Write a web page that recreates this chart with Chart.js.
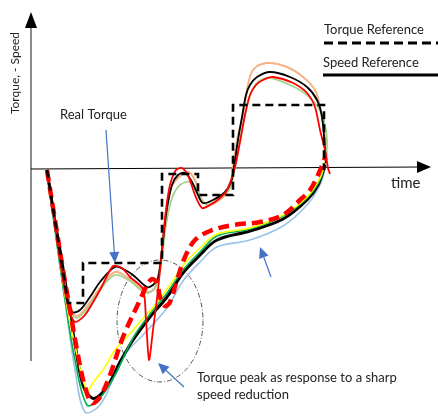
<!DOCTYPE html>
<html>
<head>
<meta charset="utf-8">
<script src="https://cdn.jsdelivr.net/npm/chart.js@4.4.0/dist/chart.umd.min.js"></script>
<style>
  html, body { margin: 0; padding: 0; background: #fff; }
  canvas { display: block; }
</style>
</head>
<body>
<canvas id="chart" width="438" height="416"></canvas>
<script>
// [time, value] pairs, arbitrary units (axis origin = 0,0)
const torqueReference = [[1.6,-0.1],[3.7,-13.4],[5.2,-13.4],[5.2,-9.4],[13.1,-9.4],[13.1,-0.5],[16.7,-0.5],[16.7,-2.6],[20.2,-2.6],[20.2,6.4],[29.3,6.4],[29.3,-0.1]];

const torqueBlack = [[1.6,-0.1],[2.4,-5.1],[3.1,-10.1],[3.6,-13.1],[4.1,-14.3],[4.9,-14.1],[5.9,-12.8],[6.9,-11.3],[8.4,-9.8],[9.4,-10.1],[10.2,-10.6],[11.6,-11.8],[12.2,-11.6],[12.7,-10.9],[13.1,-8.1],[13.5,-4.6],[14.1,-1.6],[14.7,-0.6],[15.4,-0.4],[16.1,-1.3],[16.7,-2.6],[17.2,-3.4],[18.2,-3.1],[19.4,-2.3],[20.0,-1.3],[20.3,0.2],[20.7,2.9],[21.1,5.2],[21.5,7.4],[21.9,8.4],[22.6,9.2],[23.9,9.7],[25.9,9.2],[27.6,8.2],[28.6,6.9],[29.1,5.2],[29.4,1.9],[29.5,0.6]];
const torquePeach = [[1.6,-0.1],[2.4,-5.1],[3.2,-10.6],[3.9,-13.6],[4.6,-14.7],[5.7,-13.6],[6.9,-11.9],[8.4,-10.3],[9.7,-10.9],[10.9,-11.9],[11.7,-12.3],[12.4,-11.9],[12.9,-9.6],[13.4,-5.1],[13.9,-2.1],[14.7,-0.9],[15.7,-0.3],[16.4,-1.1],[17.0,-2.9],[17.6,-3.6],[18.4,-3.4],[19.4,-2.6],[20.0,-1.6],[20.2,0.2],[20.7,3.4],[21.2,5.4],[21.6,7.9],[22.2,9.9],[23.6,10.6],[25.6,10.2],[27.2,9.2],[28.4,7.9],[28.9,6.2],[29.4,3.2],[29.6,0.9]];
const torqueGreen = [[1.6,-0.1],[2.4,-5.6],[3.2,-11.1],[3.9,-14.1],[4.6,-14.9],[5.9,-13.6],[6.9,-12.1],[8.4,-10.6],[9.9,-11.2],[11.4,-12.4],[12.1,-12.2],[12.7,-11.1],[13.1,-8.9],[13.5,-5.6],[14.1,-2.9],[14.9,-1.6],[15.9,-1.3],[16.6,-2.1],[17.2,-3.3],[17.9,-3.5],[19.1,-2.8],[19.9,-1.9],[20.4,0.2],[20.9,2.9],[21.4,5.4],[21.9,7.4],[22.7,8.7],[23.9,9.1],[25.9,8.4],[27.2,7.7],[28.1,6.9],[28.9,5.9],[29.4,4.4],[29.6,2.9],[29.5,0.9]];
const torqueRed = [[1.6,-0.1],[2.4,-5.6],[3.2,-11.1],[3.8,-14.1],[4.4,-15.3],[5.4,-14.6],[6.9,-12.1],[8.2,-9.7],[9.1,-9.9],[9.9,-10.8],[11.2,-12.0],[11.5,-15.1],[11.8,-19.1],[12.2,-16.1],[12.7,-12.1],[13.1,-8.1],[13.5,-4.1],[13.9,-1.6],[14.5,-0.1],[15.1,0.1],[15.7,-0.6],[16.4,-2.6],[17.1,-3.9],[17.9,-3.6],[18.9,-2.9],[19.6,-2.1],[20.4,0.2],[20.9,2.7],[21.4,5.4],[21.9,7.4],[22.5,8.4],[23.2,8.9],[24.2,9.2],[26.2,8.6],[27.6,7.6],[28.4,6.2],[28.9,3.9],[29.4,1.9],[29.7,0.1],[29.9,-0.5]];

const speedBlack = [[1.6,-0.1],[2.2,-4.1],[2.9,-8.1],[3.7,-13.1],[4.5,-18.1],[5.2,-21.6],[6.1,-22.9],[6.9,-22.6],[7.9,-21.3],[8.9,-19.3],[10.2,-17.1],[11.9,-14.8],[13.6,-12.8],[15.2,-10.4],[16.9,-8.6],[18.6,-7.1],[21.9,-6.2],[25.2,-5.0],[27.6,-3.1],[28.7,-1.6],[29.4,0.4]];
const speedBlue = [[1.6,-0.1],[2.4,-6.1],[3.4,-13.1],[4.4,-20.1],[5.4,-24.3],[6.9,-23.6],[8.4,-20.6],[9.6,-18.3],[11.2,-16.6],[13.6,-13.9],[15.2,-11.2],[16.9,-9.3],[18.6,-7.8],[21.9,-7.1],[25.2,-5.7],[27.6,-3.6],[28.9,-1.6],[29.5,0.4]];
const speedYellow = [[1.6,-0.1],[2.4,-5.6],[3.4,-12.6],[4.6,-18.6],[5.6,-22.1],[6.4,-21.1],[7.2,-20.1],[8.4,-18.1],[9.6,-16.8],[10.9,-15.3],[12.4,-13.6],[13.9,-11.6],[15.4,-9.4],[16.9,-7.9],[18.6,-6.5],[21.9,-5.9],[25.2,-4.6],[27.6,-2.8],[28.9,-0.9],[29.4,0.7]];
const speedGreen = [[1.6,-0.1],[2.4,-6.1],[3.4,-13.1],[4.4,-19.1],[5.6,-23.6],[6.9,-22.9],[8.4,-20.6],[10.2,-16.9],[11.9,-14.5],[13.6,-12.4],[15.2,-10.1],[16.9,-8.3],[18.6,-6.7],[21.9,-6.0],[25.2,-4.7],[27.6,-2.9],[28.9,-1.1],[29.4,0.7]];
const speedRedDashed = [[1.6,-0.1],[2.4,-5.1],[3.2,-10.1],[3.9,-14.1],[4.6,-18.1],[5.3,-21.4],[6.1,-23.4],[6.9,-22.8],[7.9,-20.6],[9.2,-16.8],[10.9,-13.1],[11.6,-11.6],[12.1,-11.0],[12.6,-11.4],[12.9,-12.8],[13.4,-13.7],[13.9,-13.3],[14.6,-11.1],[15.4,-8.8],[16.4,-7.1],[17.9,-6.2],[20.2,-5.6],[22.9,-5.3],[25.2,-4.6],[26.9,-3.1],[27.9,-2.1],[28.7,-0.6],[29.4,1.1]];

const legendLabels = ['Torque Reference', 'Speed Reference'];
const axisLabels = { x: 'time', y: 'Torque, - Speed' };
const noteRealTorque = 'Real Torque';
const notePeak = ['Torque peak as response to a sharp', 'speed reduction'];

const FONT = 'Lato, "Open Sans", sans-serif';
const BLUE = '#4472C4';

function pts(arr) {
  return arr.map(p => ({ x: p[0], y: p[1] }));
}

function line(data, color, width, extra) {
  return Object.assign({
    data: pts(data),
    showLine: true,
    borderColor: color,
    backgroundColor: color,
    borderWidth: width,
    pointRadius: 0,
    tension: 0.35,
    fill: false
  }, extra || {});
}

function arrow(ctx, x1, y1, x2, y2, color) {
  const a = Math.atan2(y2 - y1, x2 - x1);
  const len = 11, half = 5;
  const bx = x2 - Math.cos(a) * len, by = y2 - Math.sin(a) * len;
  ctx.strokeStyle = color;
  ctx.fillStyle = color;
  ctx.lineWidth = 1.2;
  ctx.beginPath();
  ctx.moveTo(x1, y1);
  ctx.lineTo(bx, by);
  ctx.stroke();
  ctx.beginPath();
  ctx.moveTo(x2, y2);
  ctx.lineTo(bx - Math.sin(a) * half, by + Math.cos(a) * half);
  ctx.lineTo(bx + Math.sin(a) * half, by - Math.cos(a) * half);
  ctx.closePath();
  ctx.fill();
}

const sketchDecor = {
  id: 'sketchDecor',
  beforeDatasetsDraw(chart) {
    const ctx = chart.ctx;
    const xs = chart.scales.x, ys = chart.scales.y;
    const x0 = xs.getPixelForValue(0), y0 = ys.getPixelForValue(0);
    ctx.save();
    // vertical axis
    ctx.strokeStyle = '#8c8c8c';
    ctx.lineWidth = 2;
    ctx.beginPath();
    ctx.moveTo(x0, ys.getPixelForValue(-19.2));
    ctx.lineTo(x0, ys.getPixelForValue(14.5));
    ctx.stroke();
    ctx.fillStyle = '#000';
    ctx.beginPath();
    ctx.moveTo(x0, ys.getPixelForValue(15.7));
    ctx.lineTo(x0 - 6, ys.getPixelForValue(14.1));
    ctx.lineTo(x0 + 6, ys.getPixelForValue(14.1));
    ctx.closePath();
    ctx.fill();
    // horizontal axis
    ctx.strokeStyle = '#000';
    ctx.lineWidth = 1;
    ctx.beginPath();
    ctx.moveTo(x0, y0);
    ctx.lineTo(xs.getPixelForValue(39), ys.getPixelForValue(0.2));
    ctx.stroke();
    ctx.beginPath();
    ctx.moveTo(xs.getPixelForValue(40.0), ys.getPixelForValue(0.2));
    ctx.lineTo(xs.getPixelForValue(38.6), ys.getPixelForValue(0.8));
    ctx.lineTo(xs.getPixelForValue(38.6), ys.getPixelForValue(-0.4));
    ctx.closePath();
    ctx.fill();
    // dash-dot ellipse around the torque peak
    ctx.strokeStyle = '#555';
    ctx.lineWidth = 1;
    ctx.setLineDash([5, 2, 1, 2]);
    const cx = xs.getPixelForValue(12.9), cy = ys.getPixelForValue(-15.2);
    const rx = xs.getPixelForValue(12.9 + 4.3) - cx, ry = cy - ys.getPixelForValue(-15.2 + 6.1);
    ctx.beginPath();
    ctx.ellipse(cx, cy, rx, ry, 0, 0, Math.PI * 2);
    ctx.stroke();
    ctx.restore();
  },
  afterDatasetsDraw(chart) {
    const ctx = chart.ctx;
    ctx.save();
    ctx.fillStyle = '#222';
    ctx.textBaseline = 'middle';
    ctx.font = '13px ' + FONT;
    ctx.fillText(legendLabels[0], 324, 30);
    ctx.fillText(legendLabels[1], 323, 63);
    ctx.fillText(noteRealTorque, 60, 115);
    ctx.fillText(notePeak[0], 197, 378);
    ctx.fillText(notePeak[1], 197, 395);
    ctx.font = '15px ' + FONT;
    ctx.fillText(axisLabels.x, 391, 183);
    // rotated y title
    ctx.font = '12px ' + FONT;
    ctx.translate(15, 73);
    ctx.rotate(-Math.PI / 2);
    ctx.textAlign = 'center';
    ctx.fillText(axisLabels.y, 0, 0);
    ctx.setTransform(1, 0, 0, 1, 0, 0);
    // legend samples
    ctx.strokeStyle = '#000';
    ctx.lineWidth = 3;
    ctx.setLineDash([9, 5]);
    ctx.beginPath();
    ctx.moveTo(324, 43);
    ctx.lineTo(438, 43);
    ctx.stroke();
    ctx.setLineDash([]);
    ctx.beginPath();
    ctx.moveTo(323, 75);
    ctx.lineTo(438, 75);
    ctx.stroke();
    // pointer arrows
    arrow(ctx, 106, 130, 115, 263, BLUE);
    arrow(ctx, 271, 277, 260, 247, BLUE);
    arrow(ctx, 184, 387, 158, 363, BLUE);
    ctx.restore();
  }
};

const datasets = [
  line(torqueReference, '#000', 2.6, { tension: 0, borderDash: [8, 5] }),
  line(torqueRed, '#FF0000', 1.8, { tension: 0.25 }),
  line(speedRedDashed, '#FF0000', 4.5, { borderDash: [11, 6] }),
  line(torqueBlack, '#000', 1.8),
  line(torqueGreen, '#A9D18E', 1.8),
  line(torquePeach, '#F4B183', 2),
  line(speedYellow, '#FFFF00', 1.6),
  line(speedGreen, '#00B050', 1.6),
  line(speedBlack, '#000', 3),
  line(speedBlue, '#9DC3E6', 1.6)
];

new Chart(document.getElementById('chart'), {
  type: 'scatter',
  data: { datasets },
  options: {
    responsive: false,
    animation: false,
    layout: { padding: 0 },
    plugins: { legend: { display: false }, tooltip: { enabled: false } },
    scales: {
      x: { type: 'linear', display: false, min: -3.1, max: 40.7 },
      y: { type: 'linear', display: false, min: -24.7, max: 16.9 }
    }
  },
  plugins: [sketchDecor]
});
</script>
</body>
</html>
